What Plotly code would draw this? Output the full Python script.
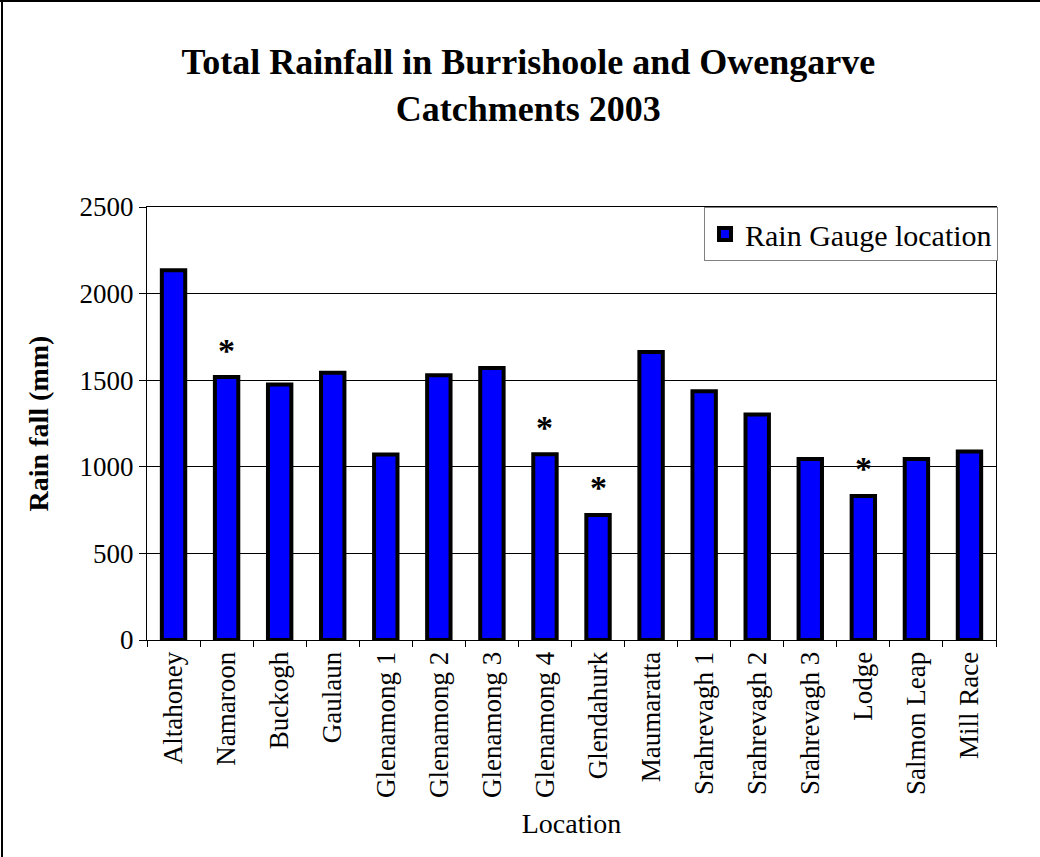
import plotly.graph_objects as go

# Rain gauge stations and their 2003 totals (mm)
stations = ["Altahoney", "Namaroon", "Buckogh", "Gaulaun", "Glenamong 1",
            "Glenamong 2", "Glenamong 3", "Glenamong 4", "Glendahurk",
            "Maumaratta", "Srahrevagh 1", "Srahrevagh 2", "Srahrevagh 3",
            "Lodge", "Salmon Leap", "Mill Race"]
rainfall = [2135, 1518, 1475, 1543, 1071, 1529, 1571, 1072, 722,
            1663, 1436, 1302, 1045, 832, 1045, 1088]
# stations marked with an asterisk
flagged = ["Namaroon", "Glenamong 4", "Glendahurk", "Lodge"]

FONT = "Liberation Serif, Times New Roman, serif"

fig = go.Figure()
fig.add_trace(go.Bar(
    x=stations, y=rainfall, name="Rain Gauge location",
    marker=dict(color="#0000FF", line=dict(color="black", width=4)),
    showlegend=True,
))

for s in flagged:
    fig.add_annotation(
        x=s, y=rainfall[stations.index(s)], text="<b>*</b>",
        showarrow=False, yanchor="middle", yshift=27,
        font=dict(family=FONT, size=34, color="black"),
    )

# outer chart frame (top and left edges)
fig.add_shape(type="line", xref="paper", yref="paper",
              xsizemode="pixel", ysizemode="pixel", xanchor=0, yanchor=0,
              x0=-150, x1=900, y0=639, y1=639,
              line=dict(color="black", width=2))
fig.add_shape(type="line", xref="paper", yref="paper",
              xsizemode="pixel", ysizemode="pixel", xanchor=0, yanchor=0,
              x0=-145, x1=-145, y0=-240, y1=640,
              line=dict(color="black", width=2))

fig.update_layout(
    width=1040, height=857,
    margin=dict(l=147, r=44, t=207, b=217),
    paper_bgcolor="white", plot_bgcolor="white",
    font=dict(family=FONT, color="black", size=27),
    bargap=0.559,
    title=dict(
        text="<b>Total Rainfall in Burrishoole and Owengarve<br>Catchments 2003</b>",
        x=0.508, xanchor="center", xref="container",
        y=1 - 74 / 857, yanchor="top", yref="container",
        font=dict(family=FONT, size=36, color="black"),
    ),
    legend=dict(
        x=1 + 2 / 849, xanchor="right", y=1, yanchor="top",
        bordercolor="#808080", borderwidth=1, bgcolor="white",
        font=dict(family=FONT, size=30, color="black"),
        itemwidth=30, tracegroupgap=0,
    ),
    showlegend=True,
)

fig.update_xaxes(
    type="category", tickangle=-90, tickson="boundaries",
    ticks="outside", ticklen=6, tickcolor="black",
    showline=True, linecolor="black", linewidth=1, mirror=True,
    showgrid=False,
    tickfont=dict(family=FONT, size=27, color="black"),
    title=dict(text="Location", standoff=16,
               font=dict(family=FONT, size=28, color="black")),
)
fig.update_yaxes(
    range=[0, 2500], dtick=500, tick0=0,
    ticks="outside", ticklen=7, tickcolor="black",
    showline=True, linecolor="black", linewidth=1, mirror=True,
    showgrid=True, gridcolor="black", gridwidth=1, zeroline=False,
    tickfont=dict(family=FONT, size=27, color="black"),
    title=dict(text="<b>Rain fall (mm)</b>", standoff=22,
               font=dict(family=FONT, size=28, color="black")),
)

fig.write_html("out.html")
